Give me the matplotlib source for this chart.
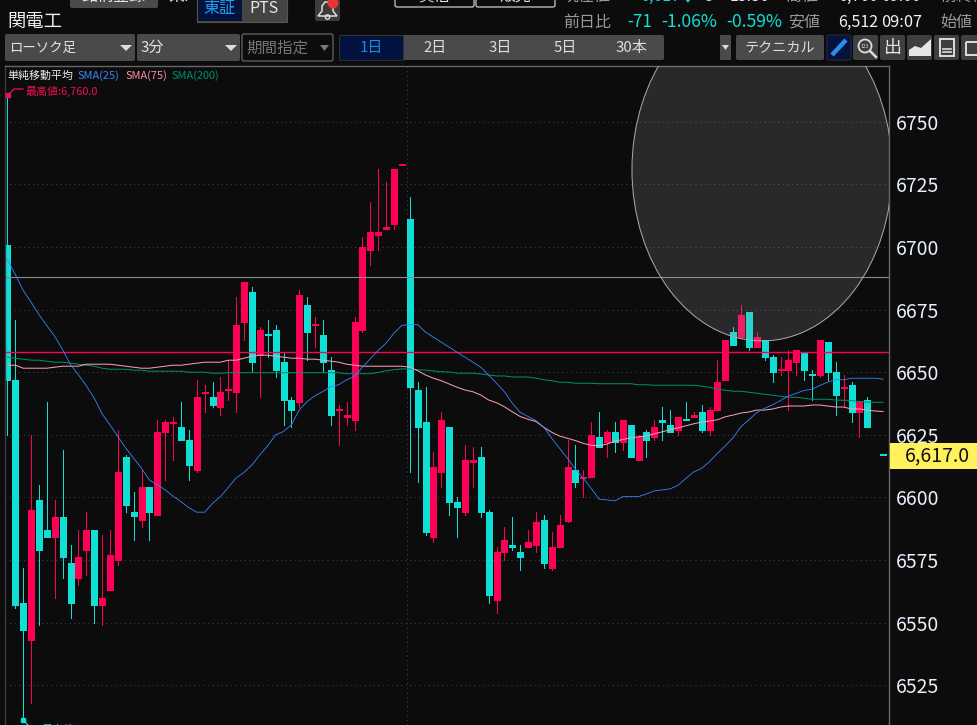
import numpy as np
import matplotlib
matplotlib.use("Agg")
import matplotlib.pyplot as plt
from matplotlib.patches import Ellipse, FancyBboxPatch, Rectangle, Circle, Polygon

plt.rcParams['font.family'] = ['Noto Sans CJK JP', 'DejaVu Sans']

# ---- data -------------------------------------------------------------
y_ticks = [6525, 6550, 6575, 6600, 6625, 6650, 6675, 6700, 6725, 6750]
last_price = "6,617.0"
sma_labels = ["SMA(25)", "SMA(75)", "SMA(200)"]
resistance_line = 6658
reference_line = 6688

# True = falling candle (cyan)
falling = [1,1,1,0,1,1,0,1,1,0, 0,1,0,0,0,1,1,0,1,0, 0,0,1,1,0,0,1,0,0,0,
           0,1,0,1,1,1,1,0,1,0, 1,1,0,0,0,0,0,0,0,0, 0,1,1,1,0,0,1,1,0,0,
           1,1,0,0,1,1,0,0,1,0, 0,0,1,0,0,1,0,1,0,1, 0,1,0,1,1,0,1,0,1,0,
           0,0,1,0,1,0,1,1,0,0, 0,1,1,0,1,1,0,1,0,1, 1,1]
highs = [6760,6671,6572,6625,6605,6638,6599,6619,6581,6587,
         6594,6587,6585,6587,6627,6617,6602,6611,6604,6631,
         6631,6632,6638,6627,6647,6645,6646,6648,6655,6680,
         6686,6684,6668,6671,6669,6658,6640,6683,6680,6672,
         6671,6656,6637,6638,6672,6704,6718,6731,6726,6731,
         6733.2,6720,6646,6644,6618,6634,6628,6600,6621,6620,
         6620,6595,6580,6588,6592,6581,6587,6594,6593,6586,
         6593,6623,6621,6611,6630,6634,6627,6630,6631,6629,
         6625,6627,6631,6636,6635,6632,6638,6634,6637,6636,
         6655,6663,6668,6677,6674,6666,6663,6657,6656,6659,
         6659,6658,6651,6663,6662,6654,6649,6646,6638,6640,
         np.nan,6617.2]
body_tops = [6701,6647,6558,6595,6599,6587,6592,6592,6574,6576,
             6587,6587,6560,6577,6610,6616,6594,6604,6604,6626,
             6630,6630.2,6628,6623,6640,6642.2,6640,6642,6643.2,6669,
             6686,6682,6667,6665.2,6667,6654,6639,6681,6677,6669.2,
             6665,6651,6635.2,6633,6670,6700,6706,6706,6708,6731,
             6733.2,6711,6643,6630,6612,6631,6628,6598,6615,6615,
             6616,6594,6578,6583,6581,6578,6582,6590,6591,6580,
             6589,6612,6611,6608.2,6625,6624,6626,6626,6631,6629,
             6624,6626,6628,6631,6629,6632,6631.2,6633,6634,6635,
             6646,6663,6666,6673,6674,6664,6663,6656,6651.2,6655,
             6659,6658,6649.2,6663,6662,6650,6644.2,6645,6638,6639,
             np.nan,6617.2]
body_bottoms = [6647,6557,6547,6543,6579,6584,6584,6576,6558,6568,
                6579,6557,6557,6563,6575,6597,6592.5,6591,6594,6593,
                6626,6629.8,6623,6613,6611,6641.8,6637,6636,6642.8,6642,
                6670,6654,6657,6664.8,6651,6639,6635,6638,6666,6668.8,
                6654,6633,6634.8,6632,6631,6667,6699,6705,6707,6709,
                6732.8,6644,6628,6586,6584,6610,6598,6596,6594,6614,
                6594,6561,6559,6578,6580,6576,6580,6581,6574,6572,
                6580,6590.5,6606,6607.8,6608,6620,6622,6622,6622,6616,
                6615,6623,6624,6630,6626,6627,6630.8,6632,6627,6627,
                6635,6647,6661,6664,6660,6660,6656,6650,6650.8,6651,
                6654,6651,6648.8,6649,6650,6641,6643.8,6634,6634,6628,
                np.nan,6616.8]
lows = [6625,6556,6512,6518,6549,6584,6560,6568,6552,6565,
        6569,6550,6549,6563,6573,6594,6583,6588,6583,6593,
        6607,6615,6623,6607,6610,6634,6636,6633,6639,6634,
        6663,6650,6640,6656,6648,6629,6628,6636,6655,6660,
        6650,6629,6621,6629,6627,6666,6693,6699,6707,6707,
        6732.8,6610,6606,6585,6582,6604,6593,6584,6593,6604,
        6592,6558,6554,6575,6579,6571,6580,6578,6572,6571,
        6580,6590,6604,6600,6608,6620,6616,6618,6619,6616,
        6615,6616,6623,6623,6626,6625,6631,6632,6626,6625,
        6635,6647,6661,6664,6659,6660,6655,6646,6649,6635,
        6649,6647,6639,6648,6647,6633,6636,6630,6624,6628,
        np.nan,6616.8]

sma25 = [6695,6689,6682.7,6678,6673,6668.6,6664.3,6659,6653,6649,
         6644.6,6639.7,6633.4,6629,6624.3,6619.7,6615.7,6611.6,6607,6605,
         6603,6600.5,6598.3,6595.9,6594.1,6594.1,6597.6,6600.3,6604,6607.8,
         6610,6613,6617,6620.6,6625,6626.3,6629,6635,6638.3,6640.6,
         6642.3,6644.3,6645,6647,6648.3,6652,6655.4,6658.7,6661.6,6665.6,
         6668.7,6669,6669,6666,6664,6662,6660,6658,6656,6654,
         6652,6648.9,6645.6,6642.2,6637.6,6634,6632.3,6630.7,6628,6623.6,
         6619.6,6615.6,6611.3,6607.6,6603.6,6599.3,6599,6598.6,6600.3,6600.3,
         6600.3,6601.4,6602.6,6603,6603.4,6604.8,6607.6,6610.2,6611.6,6614.3,
         6617.6,6620.6,6623.9,6628.3,6631,6633.9,6635.6,6637,6638.7,6640.5,
         6641.6,6642.7,6643.2,6644.7,6646.1,6647,6647,6647.6,6647.6,6647.6,
         6647.6,6647.2]
sma75 = [6652.8,6652.8,6651.6,6651.6,6651.6,6651.6,6652,6652.4,6652.4,6652.4,
         6653.2,6653.2,6653.2,6653.2,6652.8,6652.4,6652,6651.6,6651.6,6652,
         6652.4,6652.8,6652.8,6653.2,6653.6,6654,6654,6654,6654.8,6654.8,
         6655.6,6656.4,6656.8,6656.8,6656.4,6656,6655.6,6655.6,6655.2,6655.2,
         6654.8,6654.4,6654,6653.2,6652.8,6652.4,6652.4,6652.4,6652.4,6652.4,
         6652.4,6652,6650.6,6648.9,6647.6,6646.6,6645.3,6644,6642.9,6642.2,
         6640.9,6638.9,6637.8,6636.2,6634.2,6632.3,6631.2,6630.3,6628,6626,
         6624.5,6623.6,6622.7,6621.6,6620.8,6620.7,6621.3,6622.5,6623.1,6623.8,
         6624.2,6624.6,6625.4,6626.2,6627,6627.8,6628.6,6629.4,6630.1,6630.5,
         6631,6632.2,6632.9,6633.7,6634.1,6634.9,6634.9,6635.3,6636.1,6636.5,
         6636.5,6636.5,6636.9,6636.9,6636.5,6636.1,6636.1,6635.3,6635.3,6634.9,
         6634.5,6634.3]
sma200 = [6656,6655.6,6655.2,6654.8,6654.8,6654.4,6654,6654,6653.6,6653.2,
          6652.8,6652.4,6651.6,6651.2,6651.2,6651.2,6650.8,6650.8,6650.4,6650.4,
          6650.4,6650.4,6650.4,6650,6650,6650,6649.6,6649.6,6649.8,6649.8,
          6649.8,6649.8,6649.8,6649.8,6649.8,6649.8,6649.8,6649.8,6649.8,6649.8,
          6649.8,6649.8,6649.8,6649.4,6649.4,6649.4,6649.4,6649.9,6650.6,6651,
          6651.3,6651.3,6651,6650.8,6650.5,6650.2,6650.1,6649.6,6649.6,6649.6,
          6649.3,6648.9,6648.5,6648.5,6648.1,6648.1,6648.1,6647.6,6647,6646.6,
          6646,6646,6645.6,6645.6,6645.6,6645.4,6645.4,6645.4,6645.4,6645.4,
          6645,6645,6644.8,6644.8,6644.8,6644.8,6644.8,6644.8,6644.4,6644,
          6643.2,6642.8,6642.4,6642.4,6642,6641.6,6641.2,6640.8,6640.4,6640,
          6640,6639.6,6639.2,6639.2,6639.2,6638.9,6638.8,6638.7,6638.3,6638,
          6638,6638]

# ---- styles -------------------------------------------------------------
BG = "#0c0c0c"
CYAN = "#10dfd6"
RED = "#ff0055"
BLUE = "#3a84ff"
PINK = "#ff9db4"
GREEN = "#008f6c"
GRAY = "#4a4a4a"

W, H = 978, 725
fig = plt.figure(figsize=(W/100, H/100), dpi=100, facecolor=BG)

# main chart : pixel box x 5..889, y 66..725
ax = fig.add_axes([5/W, 0, 884/W, 659/H], facecolor=BG, zorder=1)
xs = np.arange(len(highs), dtype=float)
ax.set_xlim(-0.304, 111.75)
ax.set_ylim(6509.1, 6772.3)
ax.yaxis.tick_right()
ax.set_yticks(y_ticks)
ax.set_xticks([50.7])
ax.set_xticklabels([])
ax.tick_params(axis='both', length=0, labelcolor="#e8eefa", labelsize=14, pad=5)
ax.grid(True, color="#444444", lw=0.72, linestyle=(0, (1, 3.6)), zorder=0)
ax.set_axisbelow(True)
for name, sp in ax.spines.items():
    sp.set_color("#3a3a3a" if name == "left" else "#666666")
    sp.set_linewidth(1.0)
ax.spines['bottom'].set_visible(False)

colors = [CYAN if f else RED for f in falling]
ax.vlines(xs, lows, highs, colors=colors, lw=0.6, zorder=2, antialiased=False)
ax.vlines(xs, body_bottoms, body_tops, colors=colors, lw=3.8, zorder=2.2,
          antialiased=False, capstyle='butt')

ax.axhline(reference_line, color="#8a8a8a", lw=0.8, zorder=2.5)
ax.axhline(resistance_line, color=RED, lw=1.0, zorder=2.5)
ax.plot(xs, sma200, color=GREEN, lw=0.72, zorder=3)
ax.plot(xs, sma75, color=PINK, lw=0.72, zorder=3.1)
ax.plot(xs, sma25, color=BLUE, lw=0.6, zorder=3.2)

ell = Ellipse((95.65, 6730.9), 32.96, 136.8,
              facecolor=(0.63, 0.63, 0.66, 0.2), edgecolor="#aaaaaa", lw=0.72, zorder=4)
ax.add_patch(ell)

# ---- interface overlay in pixel coordinates ----------------------------
ui = fig.add_axes([0, 0, 1, 1], zorder=5)
ui.patch.set_alpha(0)
ui.set_xlim(0, W)
ui.set_ylim(H, 0)
ui.axis('off')


def T(x, y, s, c="#e6e6e6", size=11.5, ha='left', **kw):
    ui.text(x, y, s, color=c, fontsize=size, ha=ha, va='center', **kw)


def button(x0, y0, x1, y1, fc=GRAY, ec='none', lw=0):
    ui.add_patch(FancyBboxPatch((x0+2, y0+2), x1-x0-4, y1-y0-4,
                                boxstyle="round,pad=2,rounding_size=2",
                                fc=fc, ec=ec, lw=lw))


# top row, cut off by the picture edge
T(7, -5, "1942", size=11.5)
button(70, -12, 158, 8)
T(114, -4, "銘柄登録", ha='center', size=11.5)
T(168, -4, "東P", size=11.5)
ui.add_patch(Rectangle((197, -5), 90, 27, fc="#444444", ec="#555555", lw=0.8))
ui.add_patch(Rectangle((198, -5), 44, 26, fc="#04123c", ec='none'))
T(219.5, 8, "東証", c="#1ea0f0", size=11.5, ha='center')
T(264, 8, "PTS", size=11.5, ha='center')
button(315, -5, 340, 21, fc="#3c3c3c")
ui.add_patch(Polygon([(318, 16), (322, 11), (322, 6), (325, 2), (330, 2), (333, 6), (333, 11), (337, 16)],
                     closed=True, fc='none', ec="#dddddd", lw=1.1))
ui.add_patch(Circle((327.5, 17), 2.2, fc='none', ec="#dddddd", lw=1))
ui.add_patch(Circle((333, 3), 5.5, fc="#ee3333", ec='none'))
button(395, -12, 474, 7, fc=BG, ec="#cccccc", lw=0.9)
button(476, -12, 555, 7, fc=BG, ec="#cccccc", lw=0.9)
T(434.5, -4, "貸借", ha='center', size=11.5)
T(515.5, -4, "販売", ha='center', size=11.5)
T(563, -4, "現在値", c="#9a9a9a")
T(640, -4, "6,617", c=CYAN)
T(688, -4, "↓", c=CYAN, ha='center')
T(707, -4, "C", c="#dddddd", ha='center')
T(730, -4, "13:36", c="#eeeeee")
T(786, -4, "高値", c="#9a9a9a")
T(838, -4, "6,760", c="#eeeeee")
T(881, -4, "09:00", c="#eeeeee")
T(940, -4, "前終値", c="#9a9a9a")

T(7, 22, "関電工", c="#eeeeee", size=13.2)
T(563, 22, "前日比", c="#9a9a9a")
T(627, 22, "-71", c=CYAN, size=12.3)
T(661, 22, "-1.06%", c=CYAN, size=12.6)
T(726, 22, "-0.59%", c=CYAN, size=12.6)
T(788, 22, "安値", c="#9a9a9a")
T(838, 22, "6,512", c="#f2f2f2")
T(881, 22, "09:07", c="#f2f2f2", size=11.8)
T(940, 22, "始値", c="#9a9a9a")

# toolbar
button(5, 34, 135, 61)
T(9, 48, "ローソク足", size=9.6)
ui.add_patch(Polygon([(120, 45), (132, 45), (126, 51)], fc="#dddddd"))
button(137, 34, 240, 61)
T(141, 48, "3分", size=10.8)
ui.add_patch(Polygon([(225, 45), (237, 45), (231, 51)], fc="#dddddd"))
button(242, 34, 333, 61, fc=BG, ec="#666666", lw=0.9)
T(246, 48, "期間指定", c="#777777", size=11.2)
ui.add_patch(Polygon([(320, 45), (329, 45), (324.5, 51)], fc="#777777"))
button(339, 35, 664, 60)
ui.add_patch(Rectangle((339, 35), 64, 25, fc="#03123e", ec="#333333", lw=0.6))
T(371, 48, "1日", c="#1290e8", ha='center', size=10.8)
for xc, s in [(435, "2日"), (500, "3日"), (565, "5日"), (631, "30本")]:
    T(xc, 48, s, ha='center', size=10.8, c="#dddddd")
ui.add_patch(Rectangle((720, 35), 11, 25, fc=GRAY))
ui.add_patch(Polygon([(722, 45), (729, 45), (725.5, 50)], fc="#dddddd"))
button(736, 35, 824, 60)
T(780, 48, "テクニカル", ha='center', size=10.2, c="#dddddd")
button(827, 35, 851, 60, fc="#04123c", ec="#333344", lw=0.6)
ui.plot([832, 846], [55, 40], color="#2a8cf0", lw=3.2, solid_capstyle='butt')
for x0 in (853, 880, 907, 934, 961):
    button(x0, 35, x0+25, 60, fc="#3f3f3f")
ui.add_patch(Circle((865, 46), 6.5, fc='none', ec="#dddddd", lw=1.3))
T(865, 46, "123", size=3.6, ha='center', c="#dddddd")
ui.plot([870, 876], [51, 57], color="#dddddd", lw=1.8)
T(892.5, 48, "出", ha='center', size=13, c="#e6e6e6")
ui.add_patch(Polygon([(909, 56), (909, 50), (915, 46), (921, 48), (931, 39), (931, 56)], fc="#e6e6e6"))
ui.add_patch(Rectangle((940, 39), 14, 17, fc='none', ec="#dddddd", lw=1.4))
ui.plot([943, 951], [49, 49], color="#dddddd", lw=1.2)
ui.plot([943, 951], [52, 52], color="#dddddd", lw=1.2)
ui.add_patch(Rectangle((966, 42), 14, 13, fc='none', ec="#dddddd", lw=1.4))

# legend
T(7, 76, "単純移動平均", size=7.9, c="#eeeeee")
T(78, 76, sma_labels[0], size=7.9, c=BLUE)
T(126, 76, sma_labels[1], size=7.9, c="#ff8fa8")
T(172, 76, sma_labels[2], size=7.9, c=GREEN)
T(25, 91, "最高値:6,760.0", size=7.9, c="#f0104f")
ui.plot([8, 14, 23], [95, 89, 89], color="#f0104f", lw=0.9)
ui.plot([8], [95], marker='s', ms=2.5, color="#f0104f")
ui.plot([23, 28], [720, 725], color=CYAN, lw=0.9)
ui.plot([23], [720], marker='s', ms=3, color=CYAN)
T(41, 729, "最安値:6,512.0", size=7.9, c=CYAN)

# last price flag
ui.add_patch(Rectangle((890, 443), 88, 26, fc="#fff15c", ec='none'))
T(937, 456, last_price, c="#111111", size=14, ha='center')

fig.savefig("out.png", dpi=100, facecolor=BG)
